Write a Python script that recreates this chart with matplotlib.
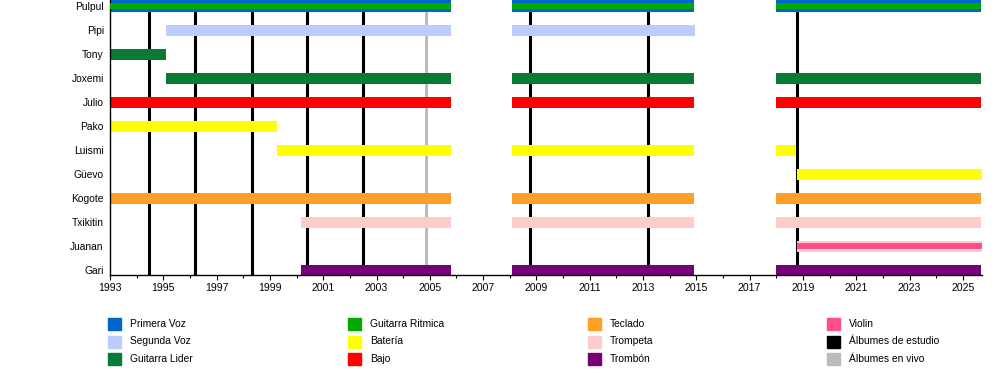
import matplotlib
matplotlib.use('Agg')
import matplotlib.pyplot as plt
from matplotlib.patches import Rectangle
import numpy as np

plt.rcParams['font.family'] = ['Liberation Sans', 'DejaVu Sans']

# band members, top to bottom
members = ['Pulpul', 'Pipi', 'Tony', 'Joxemi', 'Julio', 'Pako', 'Luismi',
           'Güevo', 'Kogote', 'Txikitin', 'Juanan', 'Gari']

role_colors = {
    'Primera Voz': '#0066CC',
    'Segunda Voz': '#BBCCFF',
    'Guitarra Lider': '#077A35',
    'Guitarra Ritmica': '#00AA00',
    'Batería': '#FFFF00',
    'Bajo': '#FF0000',
    'Teclado': '#FF9F25',
    'Trompeta': '#FFCCCC',
    'Trombón': '#770077',
    'Violin': '#FF4F88',
}

# (member, role, start, end) - main bars
spans = [
    ('Pulpul', 'Primera Voz', 1993.0, 2005.8),
    ('Pulpul', 'Primera Voz', 2008.1, 2014.9),
    ('Pulpul', 'Primera Voz', 2018.0, 2025.7),
    ('Pipi', 'Segunda Voz', 1995.1, 2005.8),
    ('Pipi', 'Segunda Voz', 2008.1, 2014.95),
    ('Tony', 'Guitarra Lider', 1993.0, 1995.1),
    ('Joxemi', 'Guitarra Lider', 1995.1, 2005.8),
    ('Joxemi', 'Guitarra Lider', 2008.1, 2014.9),
    ('Joxemi', 'Guitarra Lider', 2018.0, 2025.7),
    ('Julio', 'Bajo', 1993.0, 2005.8),
    ('Julio', 'Bajo', 2008.1, 2014.9),
    ('Julio', 'Bajo', 2018.0, 2025.7),
    ('Pako', 'Batería', 1993.0, 1999.27),
    ('Luismi', 'Batería', 1999.25, 2005.8),
    ('Luismi', 'Batería', 2008.1, 2014.9),
    ('Luismi', 'Batería', 2018.0, 2018.75),
    ('Güevo', 'Batería', 2018.78, 2025.7),
    ('Kogote', 'Teclado', 1993.0, 2005.8),
    ('Kogote', 'Teclado', 2008.1, 2014.9),
    ('Kogote', 'Teclado', 2018.0, 2025.7),
    ('Txikitin', 'Trompeta', 2000.18, 2005.8),
    ('Txikitin', 'Trompeta', 2008.1, 2014.9),
    ('Txikitin', 'Trompeta', 2018.0, 2025.7),
    ('Juanan', 'Trompeta', 2018.78, 2025.7),
    ('Gari', 'Trombón', 2000.18, 2005.8),
    ('Gari', 'Trombón', 2008.1, 2014.9),
    ('Gari', 'Trombón', 2018.0, 2025.7),
]

# secondary instruments, drawn as thin bars inside the main ones
inner_spans = [
    ('Pulpul', 'Guitarra Ritmica', 1993.0, 2005.8),
    ('Pulpul', 'Guitarra Ritmica', 2008.1, 2014.9),
    ('Pulpul', 'Guitarra Ritmica', 2018.0, 2025.7),
    ('Juanan', 'Violin', 2018.78, 2025.7),
]

studio_albums = [1994.47, 1996.2, 1998.34, 2000.39, 2002.5, 2008.77, 2013.2, 2018.78]
live_albums = [2004.87]

legend_items = ['Primera Voz', 'Segunda Voz', 'Guitarra Lider',
                'Guitarra Ritmica', 'Batería', 'Bajo',
                'Teclado', 'Trompeta', 'Trombón',
                'Violin', 'Álbumes de estudio', 'Álbumes en vivo']

x_start, x_end = 1993, 2025.7

fig = plt.figure(figsize=(10, 3.75), dpi=100)
ax = fig.add_axes([0.11, 0.2659, 0.8715, 0.7341])

ypos = {m: len(members) - 1 - i for i, m in enumerate(members)}

for x in studio_albums:
    ax.axvline(x, color='black', lw=2.2, zorder=1)
for x in live_albums:
    ax.axvline(x, color='#BBBBBB', lw=2.2, zorder=1)

for m, r, s, e in spans:
    ax.barh(ypos[m], e - s, left=s, height=0.46, color=role_colors[r], zorder=2)
for m, r, s, e in inner_spans:
    ax.barh(ypos[m], e - s, left=s, height=0.24, color=role_colors[r], zorder=3)

ax.set_xlim(x_start, x_end)
ax.set_ylim(-0.208, 11.25)
ax.set_yticks([ypos[m] for m in members])
ax.set_yticklabels(members, fontsize=7.4)
ax.tick_params(axis='y', length=0, pad=4.5)

ax.set_xticks(np.arange(1993, 2026, 2))
ax.set_xticks(np.arange(1993, 2026, 1), minor=True)
ax.tick_params(axis='x', which='major', length=3.8, width=0.8, labelsize=7.6, pad=2)
ax.tick_params(axis='x', which='minor', length=2, width=0.8)

for side in ['top', 'right']:
    ax.spines[side].set_visible(False)
for side in ['left', 'bottom']:
    ax.spines[side].set_linewidth(1.0)

# legend laid out in four columns like the original
legend_colors = [role_colors.get(k) for k in legend_items[:10]] + ['black', '#BBBBBB']

W, H = 1000.0, 375.0
col_x = [108, 348, 588, 827]
row_y = [324, 341.5, 359]
for i, (lab, col) in enumerate(zip(legend_items, legend_colors)):
    cx = col_x[i // 3]
    cy = row_y[i % 3]
    fig.patches.append(Rectangle((cx / W, 1 - (cy + 6) / H), 13 / W, 12 / H,
                                 transform=fig.transFigure, color=col))
    fig.text((cx + 22) / W, 1 - cy / H, lab, fontsize=7.4, va='center', ha='left')

fig.savefig('out.png', dpi=100)
